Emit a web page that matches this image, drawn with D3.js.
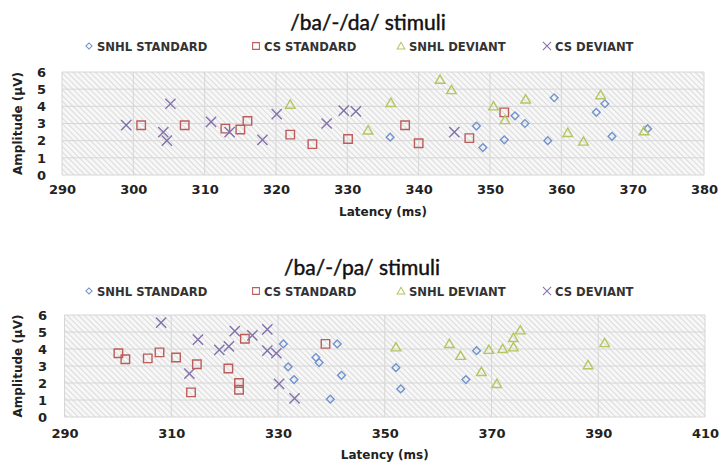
<!DOCTYPE html>
<html>
<head>
<meta charset="utf-8">
<script src="https://cdn.jsdelivr.net/npm/d3@7"></script>
<style>
  html, body { margin: 0; padding: 0; background: #fff; }
  svg { display: block; }
</style>
</head>
<body>
<svg id="chart" width="719" height="463"></svg>
<script>
// ---------- DATA ----------
const seriesNames = ["SNHL STANDARD", "CS STANDARD", "SNHL DEVIANT", "CS DEVIANT"];
const yTicks = [0, 1, 2, 3, 4, 5, 6];

// /ba/-/da/ stimuli
const daTitle = "/ba/-/da/ stimuli";
const daXTicks = [290, 300, 310, 320, 330, 340, 350, 360, 370, 380];
const daSnhlStandard = [[336.0,2.2],[348.1,2.85],[349.0,1.6],[352.0,2.05],[353.5,3.45],[354.9,3.0],[358.1,2.0],[359.0,4.5],[364.9,3.65],[366.1,4.15],[367.1,2.25],[372.1,2.7]];
const daCsStandard = [[301.1,2.9],[307.2,2.9],[312.9,2.7],[315.0,2.65],[316.0,3.15],[322.0,2.35],[325.1,1.8],[330.1,2.1],[338.1,2.9],[340.0,1.85],[347.1,2.15],[352.0,3.65]];
const daSnhlDeviant = [[322.0,4.1],[332.9,2.6],[336.1,4.2],[343.0,5.55],[344.6,4.95],[350.5,4.0],[352.1,3.2],[355.0,4.4],[360.9,2.45],[363.1,1.95],[365.5,4.65],[371.6,2.55]];
const daCsDeviant = [[299.0,2.9],[304.2,2.5],[305.2,4.15],[304.7,2.0],[310.9,3.1],[313.5,2.5],[318.1,2.05],[320.1,3.55],[327.1,3.0],[329.5,3.75],[331.2,3.7],[345.0,2.5]];

// /ba/-/pa/ stimuli
const paTitle = "/ba/-/pa/ stimuli";
const paXTicks = [290, 310, 330, 350, 370, 390, 410];
const paSnhlStandard = [[331.0,4.3],[331.9,2.95],[333.0,2.2],[337.1,3.5],[337.7,3.2],[341.1,4.3],[341.9,2.45],[339.8,1.05],[352.1,2.9],[353.0,1.65],[365.2,2.2],[367.2,3.9]];
const paCsStandard = [[300.1,3.75],[301.4,3.4],[305.6,3.45],[307.8,3.8],[310.9,3.5],[314.8,3.1],[313.7,1.45],[320.7,2.85],[322.7,2.0],[322.7,1.6],[323.8,4.6],[338.9,4.3]];
const paSnhlDeviant = [[352.1,4.1],[362.1,4.3],[364.2,3.6],[368.1,2.65],[369.5,3.95],[371.0,1.95],[372.1,4.0],[374.1,4.1],[374.1,4.65],[375.4,5.1],[388.1,3.05],[391.2,4.35]];
const paCsDeviant = [[308.1,5.55],[315.0,4.55],[313.4,2.55],[319.0,3.95],[320.8,4.15],[321.9,5.05],[325.2,4.8],[328.0,5.15],[328.0,3.9],[329.7,3.75],[330.2,1.95],[333.1,1.1]];

const xAxisTitle = "Latency (ms)";
const yAxisTitle = "Amplitude (\u00B5V)";

// ---------- STYLE ----------
const colors = ["#7193cc", "#bb5d5b", "#b4c65f", "#8271ab"];
const fontBold = "'DejaVu Sans', sans-serif";

const svg = d3.select("#chart");
const defs = svg.append("defs");
const pat = defs.append("pattern")
  .attr("id", "hatch").attr("patternUnits", "userSpaceOnUse")
  .attr("width", 4).attr("height", 4)
  .attr("patternTransform", "rotate(-45)");
pat.append("rect").attr("width", 4).attr("height", 4).attr("fill", "#f7f7f7");
pat.append("line").attr("x1", 0).attr("y1", 0).attr("x2", 0).attr("y2", 4)
  .attr("stroke", "#cdcdcd").attr("stroke-width", 1.3);

function markerPath(i) {
  if (i === 0) return d3.symbol(d3.symbolSquare, 30)();
  if (i === 1) return d3.symbol(d3.symbolSquare, 72)();
  if (i === 2) return d3.symbol(d3.symbolTriangle, 40)();
  return d3.symbol(d3.symbolX, 70)();
}
function markerTransform(i, x, y) {
  if (i === 0) return `translate(${x},${y}) rotate(45)`;
  if (i === 2) return `translate(${x},${y+0.8})`;
  return `translate(${x},${y})`;
}

function drawPanel(cfg) {
  const g = svg.append("g");
  const x = d3.scaleLinear().domain([cfg.xTicks[0], cfg.xTicks[cfg.xTicks.length-1]]).range([cfg.left, cfg.right]);
  const y = d3.scaleLinear().domain([0, 6]).range([cfg.bottom, cfg.top]);

  // title
  g.append("text").attr("x", cfg.titleX).attr("y", cfg.titleY)
    .attr("text-anchor", "middle").attr("font-family", "Lato, sans-serif")
    .attr("font-size", 21).attr("fill", "#111")
    .attr("stroke", "#111").attr("stroke-width", 0.45).text(cfg.title);

  // legend
  const legendX = [89, 256, 401, 547];
  seriesNames.forEach((name, i) => {
    g.append("path").attr("d", markerPath(i))
      .attr("transform", markerTransform(i, legendX[i], cfg.legendY) + " scale(0.8)")
      .attr("fill", "none").attr("stroke", colors[i]).attr("stroke-width", 1.3);
    g.append("text").attr("x", legendX[i] + 8).attr("y", cfg.legendY + 4.5)
      .attr("font-family", fontBold).attr("font-weight", "bold")
      .attr("font-size", 11.6).attr("fill", "#333").text(name);
  });

  // plot background
  g.append("rect").attr("x", cfg.left).attr("y", cfg.top)
    .attr("width", cfg.right - cfg.left).attr("height", cfg.bottom - cfg.top)
    .attr("fill", "url(#hatch)");

  // grid
  g.append("g").selectAll("line").data(yTicks).join("line")
    .attr("x1", cfg.left).attr("x2", cfg.right)
    .attr("y1", d => y(d)).attr("y2", d => y(d))
    .attr("stroke", "#d6d6d6").attr("stroke-width", 1);
  g.append("g").selectAll("line").data(cfg.xTicks).join("line")
    .attr("y1", cfg.top).attr("y2", cfg.bottom)
    .attr("x1", d => x(d)).attr("x2", d => x(d))
    .attr("stroke", "#d6d6d6").attr("stroke-width", 1);

  // axes (labels only)
  const xAxis = g.append("g").attr("transform", `translate(0,${cfg.bottom})`)
    .call(d3.axisBottom(x).tickValues(cfg.xTicks).tickSize(0).tickPadding(cfg.xPad).tickFormat(d3.format("d")));
  xAxis.select(".domain").remove();
  xAxis.selectAll("text").attr("font-family", fontBold).attr("font-weight", "bold")
    .attr("font-size", 13).attr("fill", "#222");

  const yAxis = g.append("g").attr("transform", `translate(${cfg.yAxisX},0)`)
    .call(d3.axisLeft(y).tickValues(yTicks).tickSize(0).tickPadding(0).tickFormat(d3.format("d")));
  yAxis.select(".domain").remove();
  yAxis.selectAll("text").attr("font-family", fontBold).attr("font-weight", "bold")
    .attr("font-size", 13).attr("fill", "#222");

  // axis titles
  g.append("text").attr("x", (cfg.left + cfg.right) / 2).attr("y", cfg.xTitleY)
    .attr("text-anchor", "middle").attr("font-family", fontBold).attr("font-weight", "bold")
    .attr("font-size", 12).attr("fill", "#222").text(xAxisTitle);
  g.append("text").attr("transform", `translate(${cfg.yTitleX},${(cfg.top + cfg.bottom) / 2}) rotate(-90)`)
    .attr("text-anchor", "middle").attr("font-family", fontBold).attr("font-weight", "bold")
    .attr("font-size", 12).attr("fill", "#222").text(yAxisTitle);

  // points
  cfg.series.forEach((data, i) => {
    g.append("g").selectAll("path").data(data).join("path")
      .attr("d", markerPath(i))
      .attr("transform", d => markerTransform(i, x(d[0]), y(d[1])))
      .attr("fill", "none").attr("stroke", colors[i]).attr("stroke-width", 1.4);
  });
}

drawPanel({
  title: daTitle, xTicks: daXTicks,
  series: [daSnhlStandard, daCsStandard, daSnhlDeviant, daCsDeviant],
  left: 62, right: 704, top: 72, bottom: 175,
  titleX: 368, titleY: 30, legendY: 46,
  xPad: 10, xTitleY: 216, yAxisX: 46, yTitleX: 22
});
drawPanel({
  title: paTitle, xTicks: paXTicks,
  series: [paSnhlStandard, paCsStandard, paSnhlDeviant, paCsDeviant],
  left: 64.5, right: 705, top: 315, bottom: 417,
  titleX: 362, titleY: 275, legendY: 291,
  xPad: 12, xTitleY: 459, yAxisX: 47, yTitleX: 22
});
</script>
</body>
</html>
